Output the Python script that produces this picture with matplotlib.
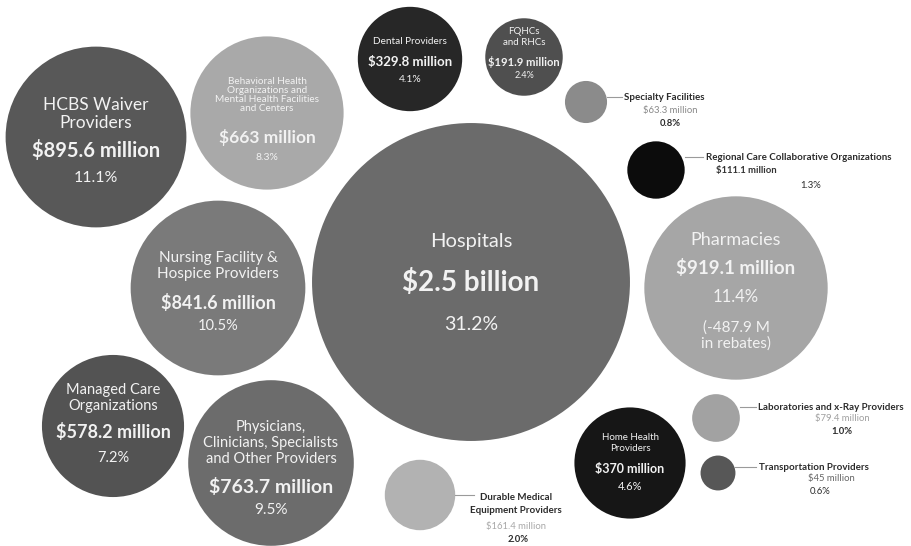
import matplotlib.pyplot as plt
from matplotlib.patches import Circle

plt.rcParams['font.family'] = ['Lato', 'DejaVu Sans']

# spending by provider type (millions of dollars)
categories = ['Hospitals', 'Pharmacies', 'HCBS Waiver\nProviders',
              'Nursing Facility &\nHospice Providers',
              'Physicians,\nClinicians, Specialists\nand Other Providers',
              'Behavioral Health\nOrganizations and\nMental Health Facilities\nand Centers',
              'Managed Care\nOrganizations', 'Home Health\nProviders',
              'Dental Providers', 'FQHCs\nand RHCs',
              'Durable Medical\nEquipment Providers',
              'Regional Care Collaborative Organizations',
              'Laboratories and x-Ray Providers', 'Specialty Facilities',
              'Transportation Providers']
amounts = [2500, 919.1, 895.6, 841.6, 763.7, 663, 578.2, 370, 329.8, 191.9,
           161.4, 111.1, 79.4, 63.3, 45]
amount_labels = ['$2.5 billion', '$919.1 million', '$895.6 million',
                 '$841.6 million', '$763.7 million', '$663 million',
                 '$578.2 million', '$370 million', '$329.8 million',
                 '$191.9 million', '$161.4 million', '$111.1 million',
                 '$79.4 million', '$63.3 million', '$45 million']
shares = [31.2, 11.4, 11.1, 10.5, 9.5, 8.3, 7.2, 4.6, 4.1, 2.4, 2.0, 1.3,
          1.0, 0.8, 0.6]
pharmacy_rebates = -487.9

# bubble centres in pixels and fill greys
centres = [(471, 282), (736, 288), (96, 137), (218, 288), (271, 463),
           (267, 113), (113, 426), (630, 463), (410, 59), (524, 57),
           (420, 495), (656, 170), (716, 418), (586, 102), (718, 473)]
fills = ['#6b6b6b', '#a6a6a6', '#585858', '#7a7a7a', '#6c6c6c', '#a9a9a9',
         '#535353', '#161616', '#272727', '#4f4f4f', '#b2b2b2', '#0c0c0c',
         '#a2a2a2', '#8b8b8b', '#575757']

# text inside the bubble: (name y, amount y, share y, name pt, amount pt, share pt, line spacing)
inside = {
    0: (242, 283, 325, 14.5, 20, 14, 1.2),
    1: (240, 268, 297, 13, 13.5, 12, 1.2),
    2: (114, 151, 178, 12.5, 14.5, 11.5, 1.2),
    3: (266, 303, 326, 11, 13, 10.5, 1.2),
    4: (443, 487, 510, 10.5, 14, 11, 1.2),
    5: (95, 137, 157, 7.2, 12.5, 7.5, 1.0),
    6: (398, 432, 458, 10.5, 13, 10.5, 1.15),
    7: (443, 469, 487, 7, 9, 8, 1.2),
    8: (42, 62, 80, 7.2, 9.5, 7.5, 1.2),
    9: (37, 62, 76, 7, 8, 6.5, 1.2),
}
# labels beside the small bubbles: line y, line end x, name (x, y, align), amount (x, y), share (x, y)
outside = {
    10: (495, 474, (516, 504, 'center'), (516, 526), (518, 539)),
    11: (157, 703, (706, 157, 'left'), (746, 170), (811, 186)),
    12: (407, 756, (758, 407, 'left'), (842, 419), (842, 431)),
    13: (97, 622, (624, 97, 'left'), (670, 111), (670, 124)),
    14: (467, 756, (759, 467, 'left'), (831, 479), (820, 492)),
}
amount_styles = {10: ('#a8a8a8', 'normal'), 11: ('#333333', 'bold'),
                 12: ('#a0a0a0', 'normal'), 13: ('#888888', 'normal'),
                 14: ('#666666', 'normal')}
share_styles = {10: 'bold', 11: 'normal', 12: 'bold', 13: 'bold', 14: 'normal'}


def radius(v):
    return 2.15 * v ** 0.55


fig = plt.figure(figsize=(9.11, 5.46), dpi=100)
ax = fig.add_axes([0, 0, 1, 1])
ax.set_xlim(0, 911)
ax.set_ylim(546, 0)
ax.set_aspect('equal')
ax.axis('off')

for i, v in enumerate(amounts):
    cx, cy = centres[i]
    r = radius(v)
    ax.add_patch(Circle((cx, cy), r, facecolor=fills[i], edgecolor='none'))

    if i in inside:
        ny, ay, sy, nfs, afs, sfs, ls = inside[i]
        txt = '#f2f2f2'
        ax.text(cx, ny, categories[i], ha='center', va='center', color=txt,
                fontsize=nfs, linespacing=ls)
        ax.text(cx, ay, amount_labels[i], ha='center', va='center', color=txt,
                fontsize=afs, fontweight='bold')
        ax.text(cx, sy, '%.1f%%' % shares[i], ha='center', va='center',
                color=txt, fontsize=sfs)
        if i == 1:
            ax.text(cx, 336, '(%.1f M\nin rebates)' % pharmacy_rebates,
                    ha='center', va='center', color=txt, fontsize=11,
                    linespacing=1.15)
    else:
        ly, lx, (nx, ny, nha), (amx, amy), (sx, sy) = outside[i]
        ax.plot([cx + r, lx], [ly, ly], color='#9a9a9a', lw=0.8)
        ax.text(nx, ny, categories[i], ha=nha, va='center', color='#2b2b2b',
                fontsize=7, fontweight='bold', linespacing=1.5)
        col, wt = amount_styles[i]
        ax.text(amx, amy, amount_labels[i], ha='center', va='center',
                color=col, fontsize=6.8, fontweight=wt)
        ax.text(sx, sy, '%.1f%%' % shares[i], ha='center', va='center',
                color='#2b2b2b', fontsize=6.8, fontweight=share_styles[i])

fig.savefig('out.png', dpi=100)
